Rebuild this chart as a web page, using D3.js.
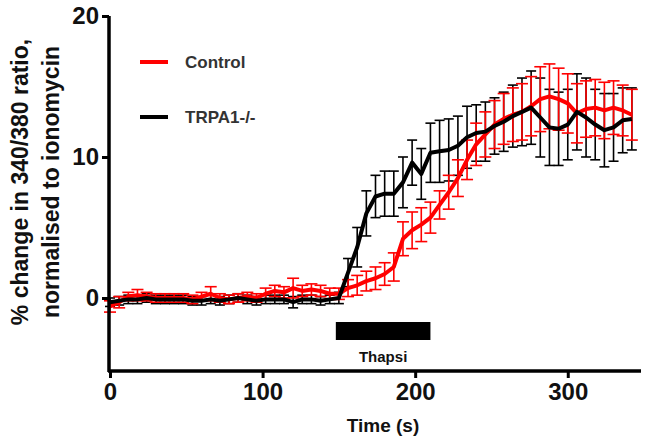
<!DOCTYPE html>
<html><head><meta charset="utf-8">
<script src="https://cdn.jsdelivr.net/npm/d3@7"></script>
<style>body{margin:0;background:#fff}svg{display:block}text{font-family:"Liberation Sans",Arial,sans-serif;font-weight:bold}</style>
</head><body><svg id="c" width="654" height="446"></svg>
<script>
const times = [0,6,12,18,24,30,36,42,48,54,60,66,72,78,84,90,96,102,108,114,120,126,132,138,144,
 150,156,162,168,174,180,186,192,198,204,210,216,222,228,234,240,246,252,258,264,270,276,282,288,294,300,306,312,318,324,330,336,342];
const controlMean = [-0.6,-0.3,0.1,0.2,0.1,0.0,0.0,0.0,0.0,-0.1,0.1,0.3,0.0,-0.1,0.0,0.1,0.0,0.3,0.5,0.4,0.7,0.5,0.6,0.5,0.3,
 0.3,0.7,0.9,1.2,1.4,1.7,2.2,4.2,4.8,5.2,5.7,6.6,7.5,8.5,9.8,10.9,11.6,12.3,12.7,13.0,13.2,13.6,14.1,14.3,14.1,13.8,13.1,13.4,13.5,13.3,13.5,13.3,13.0];
const controlSem = [0.4,0.4,0.3,0.4,0.3,0.3,0.3,0.3,0.3,0.3,0.3,0.5,0.3,0.3,0.3,0.3,0.3,0.4,0.4,0.4,0.7,0.4,0.4,0.4,0.4,
 0.4,0.6,0.7,0.7,0.8,0.8,1.0,1.2,1.3,1.2,1.1,1.0,1.2,1.3,1.4,1.5,1.6,1.7,1.8,1.9,2.0,2.1,2.3,2.3,2.2,2.1,2.1,2.0,2.0,2.0,1.9,1.8,1.8];
const trpa1Mean = [-0.3,-0.2,-0.1,-0.1,0.0,-0.1,-0.1,-0.1,-0.1,-0.2,-0.2,-0.1,-0.2,-0.1,0.0,-0.1,-0.2,-0.1,-0.1,-0.1,-0.3,-0.1,-0.1,-0.2,-0.1,
 0.0,1.8,3.6,6.0,7.2,7.4,7.4,8.2,9.6,8.8,10.3,10.4,10.5,10.8,11.4,11.7,11.8,12.2,12.5,12.9,13.2,13.5,12.8,12.1,12.0,12.3,13.2,12.8,12.3,11.9,12.1,12.6,12.7];
const trpa1Sem = [0.3,0.3,0.3,0.3,0.3,0.3,0.3,0.3,0.3,0.3,0.3,0.3,0.3,0.3,0.3,0.3,0.3,0.3,0.3,0.3,0.4,0.3,0.3,0.3,0.3,
 0.4,1.0,1.4,1.6,1.5,1.6,1.6,1.8,1.6,1.8,2.1,2.2,2.2,2.1,2.2,2.0,2.1,2.0,2.1,2.2,2.4,2.6,2.8,2.7,2.6,2.5,2.7,2.8,2.5,2.6,2.4,2.3,2.2];
const xTicks = [0,100,200,300];
const yTicks = [0,10,20];
const seriesNames = ["Control","TRPA1-/-"];
const seriesColors = ["#ff0000","#000000"];
const thapsi = [148,210];
const thapsiLabel = "Thapsi";

const svg = d3.select("#c");
const x = d3.scaleLinear().domain([0,348]).range([110,641]);
const y = d3.scaleLinear().domain([-5.25,20]).range([372,16]);

const series = [
  {name:seriesNames[0], color:seriesColors[0], mean:controlMean, sem:controlSem, cap:6},
  {name:seriesNames[1], color:seriesColors[1], mean:trpa1Mean, sem:trpa1Sem, cap:5}
];

// error bars (black first, then red)
[series[1], series[0]].forEach(s=>{
  const g = svg.append("g").attr("stroke", s.color).attr("stroke-width",1.6);
  times.forEach((t,i)=>{
    const cx = x(t), lo = y(s.mean[i]-s.sem[i]), hi = y(s.mean[i]+s.sem[i]);
    g.append("line").attr("x1",cx).attr("x2",cx).attr("y1",lo).attr("y2",hi);
    g.append("line").attr("x1",cx-s.cap).attr("x2",cx+s.cap).attr("y1",lo).attr("y2",lo);
    g.append("line").attr("x1",cx-s.cap).attr("x2",cx+s.cap).attr("y1",hi).attr("y2",hi);
  });
});
// lines
[series[0], series[1]].forEach(s=>{
  svg.append("path").datum(times.map((t,i)=>[t,s.mean[i]]))
    .attr("fill","none").attr("stroke",s.color).attr("stroke-width",4).attr("stroke-linejoin","round")
    .attr("d", d3.line().x(d=>x(d[0])).y(d=>y(d[1])));
});

// axes
const ya = svg.append("g").attr("transform","translate(109,0)")
  .call(d3.axisLeft(y).tickValues(yTicks).tickSize(7).tickSizeOuter(0).tickPadding(3));
const xa = svg.append("g").attr("transform","translate(0,371)")
  .call(d3.axisBottom(x).tickValues(xTicks).tickSize(7).tickSizeOuter(0).tickPadding(5));
[ya,xa].forEach(a=>{
  a.select(".domain").attr("stroke","#000").attr("stroke-width",3.5);
  a.selectAll(".tick line").attr("stroke","#000").attr("stroke-width",3);
  a.selectAll(".tick text").attr("fill","#111").style("font-size","24px").style("font-family","'Liberation Sans',Arial,sans-serif").style("font-weight","bold");
});
ya.select(".domain").attr("d","M0,"+y(20)+"V"+372);
xa.select(".domain").attr("d","M"+(x(0)-2)+",0H"+x(348));

// thapsi bar
svg.append("rect").attr("x",x(thapsi[0])).attr("width",x(thapsi[1])-x(thapsi[0]))
  .attr("y",322).attr("height",18).attr("fill","#000");
svg.append("text").attr("x",(x(thapsi[0])+x(thapsi[1]))/2).attr("y",362).attr("text-anchor","middle")
  .style("font-size","15px").attr("fill","#111").text(thapsiLabel);

// axis titles
svg.append("text").attr("x",383).attr("y",432).attr("text-anchor","middle").style("font-size","19px").attr("fill","#111").text("Time (s)");
const yt = svg.append("text").attr("transform","translate(28,182) rotate(-90)").attr("text-anchor","middle").style("font-size","23px").attr("fill","#111");
yt.append("tspan").attr("x",0).attr("dy",0).text("% change in 340/380 ratio,");
yt.append("tspan").attr("x",0).attr("dy",31).text("normalised to ionomycin");

// legend
series.forEach((s,i)=>{
  const ly = 62 + i*55;
  svg.append("line").attr("x1",140).attr("x2",168).attr("y1",ly).attr("y2",ly).attr("stroke",s.color).attr("stroke-width",4);
  svg.append("text").attr("x",185).attr("y",ly+6).style("font-size",17+"px").attr("fill","#333").text(s.name);
});
</script></body></html>
